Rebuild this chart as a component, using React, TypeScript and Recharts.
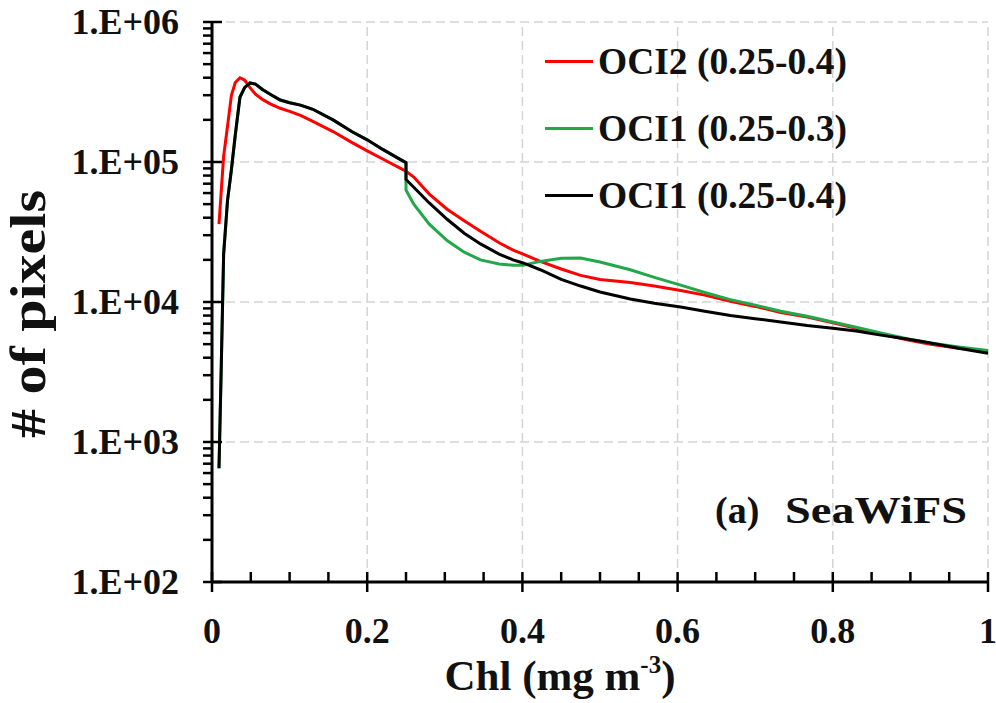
import { LineChart, Line, XAxis, YAxis, ReferenceLine, Legend, Customized } from "recharts";

// Chl (mg m^-3); 0.25 appears twice so the switch-over step is drawn vertically
const chl = [
  0.009, 0.012, 0.015, 0.02, 0.025, 0.03, 0.036, 0.042, 0.049, 0.056, 0.065, 0.075, 0.088, 0.1, 0.114, 0.13,
  0.156, 0.18, 0.2, 0.22, 0.243, 0.25, 0.25, 0.26, 0.28, 0.303, 0.325, 0.346, 0.37, 0.388, 0.401, 0.423, 0.45,
  0.475, 0.5, 0.539, 0.57, 0.604, 0.635, 0.668, 0.7, 0.733, 0.767, 0.8, 0.83, 0.862, 0.9, 0.926, 0.96, 1.0,
];

const oci2 = [
  3.6e4, 6.3e4, 1.1e5, 1.8e5, 3.0e5, 3.7e5, 4.0e5, 3.85e5, 3.4e5, 3.05e5, 2.8e5, 2.6e5, 2.42e5, 2.3e5, 2.15e5, 1.95e5,
  1.65e5, 1.38e5, 1.2e5, 1.05e5, 9.0e4, 8.6e4, 8.6e4, 7.8e4, 5.9e4, 4.6e4, 3.8e4, 3.2e4, 2.65e4, 2.35e4, 2.2e4, 1.95e4, 1.72e4,
  1.55e4, 1.45e4, 1.38e4, 1.3e4, 1.21e4, 1.12e4, 1.01e4, 9.3e3, 8.4e3, 7.8e3, 7.1e3, 6.5e3, 5.9e3, 5.3e3, 5.0e3, 4.7e3, 4.45e3,
];

const oci1Narrow = [
  650, 3.6e3, 2.2e4, 5.3e4, 8.8e4, 1.56e5, 2.9e5, 3.4e5, 3.67e5, 3.6e5, 3.3e5, 3.05e5, 2.77e5, 2.65e5, 2.55e5, 2.38e5,
  2.0e5, 1.65e5, 1.44e5, 1.23e5, 1.04e5, 9.9e4, 6.3e4, 5.0e4, 3.6e4, 2.75e4, 2.27e4, 2.0e4, 1.87e4, 1.83e4, 1.83e4, 1.95e4, 2.05e4,
  2.06e4, 1.93e4, 1.7e4, 1.5e4, 1.32e4, 1.17e4, 1.04e4, 9.5e3, 8.6e3, 7.9e3, 7.2e3, 6.6e3, 6.0e3, 5.4e3, 5.1e3, 4.8e3, 4.5e3,
];

const oci1Wide = [
  650, 3.6e3, 2.2e4, 5.3e4, 8.8e4, 1.56e5, 2.9e5, 3.4e5, 3.67e5, 3.6e5, 3.3e5, 3.05e5, 2.77e5, 2.65e5, 2.55e5, 2.38e5,
  2.0e5, 1.65e5, 1.44e5, 1.23e5, 1.04e5, 9.9e4, 7.5e4, 6.6e4, 5.1e4, 3.9e4, 3.1e4, 2.6e4, 2.2e4, 2.0e4, 1.9e4, 1.7e4, 1.45e4,
  1.3e4, 1.18e4, 1.05e4, 9.8e3, 9.2e3, 8.6e3, 8.0e3, 7.6e3, 7.2e3, 6.8e3, 6.5e3, 6.2e3, 5.8e3, 5.4e3, 5.1e3, 4.7e3, 4.3e3,
];

const yTicks = [
  100, 200, 300, 400, 500, 600, 700, 800, 900,
  1000, 2000, 3000, 4000, 5000, 6000, 7000, 8000, 9000,
  10000, 20000, 30000, 40000, 50000, 60000, 70000, 80000, 90000,
  100000, 200000, 300000, 400000, 500000, 600000, 700000, 800000, 900000, 1000000,
];
const yGrid = [1000, 10000, 100000, 1000000];
const xTicks = [0, 0.05, 0.1, 0.15, 0.2, 0.25, 0.3, 0.35, 0.4, 0.45, 0.5, 0.55, 0.6, 0.65, 0.7, 0.75, 0.8, 0.85, 0.9, 0.95, 1];
const xGrid = [0.2, 0.4, 0.6, 0.8, 1];

const series = [
  { key: "oci2", name: "OCI2 (0.25-0.4)", color: "#ff0000" },
  { key: "oci1Narrow", name: "OCI1 (0.25-0.3)", color: "#22a84a" },
  { key: "oci1Wide", name: "OCI1 (0.25-0.4)", color: "#000000" },
];

const data = chl.map((c, i) => ({ chl: c, oci2: oci2[i], oci1Narrow: oci1Narrow[i], oci1Wide: oci1Wide[i] }));

const font = '"Liberation Serif", "Times New Roman", serif';

function YTick({ x, y, payload }: any) {
  const p = Math.log10(payload.value);
  const major = Math.abs(p - Math.round(p)) < 1e-9;
  return (
    <g>
      <line x1={x - 9} x2={major ? x + 10 : x} y1={y} y2={y} stroke="#000" strokeWidth={2.5} />
      {major && (
        <text x={x - 33} y={y} textAnchor="end" dominantBaseline="central" fontFamily={font} fontWeight="bold" fontSize={36} fill="#111">
          {"1.E+" + String(Math.round(p)).padStart(2, "0")}
        </text>
      )}
    </g>
  );
}

function XTick({ x, y, payload }: any) {
  const v = payload.value;
  const major = Math.abs(v * 5 - Math.round(v * 5)) < 1e-9;
  return (
    <g>
      <line x1={x} x2={x} y1={y - 10} y2={major ? y + 10 : y} stroke="#000" strokeWidth={2.5} />
      {major && (
        <text x={x} y={y + 61} textAnchor="middle" fontFamily={font} fontWeight="bold" fontSize={36} fill="#111">
          {String(Math.round(v * 5) / 5)}
        </text>
      )}
    </g>
  );
}

function LegendBox() {
  return (
    <div style={{ fontFamily: font, fontWeight: "bold", fontSize: 37.5, color: "#111" }}>
      {series.map((s) => (
        <div key={s.key} style={{ display: "flex", alignItems: "center", height: 67, whiteSpace: "nowrap" }}>
          <span style={{ display: "inline-block", width: 48, height: 3, background: s.color, marginRight: 5 }} />
          {s.name}
        </div>
      ))}
    </div>
  );
}

function Annotations() {
  return (
    <g fontFamily={font} fontWeight="bold" fill="#111">
      <text
        x={28}
        y={314}
        fontSize={50}
        textAnchor="middle"
        dominantBaseline="central"
        textLength={248}
        lengthAdjust="spacingAndGlyphs"
        transform="rotate(-90 28 314)"
      >
        # of pixels
      </text>
      <text x={560} y={690} fontSize={43} textAnchor="middle">
        Chl (mg m<tspan fontSize={25} dy={-17}>-3</tspan>
        <tspan dy={17}>)</tspan>
      </text>
      <text x={715} y={523} fontSize={38}>
        (a)
      </text>
      <text x={785} y={523} fontSize={38} textLength={182} lengthAdjust="spacingAndGlyphs">
        SeaWiFS
      </text>
    </g>
  );
}

export default function App() {
  return (
    <div style={{ position: "absolute", left: 0, top: 0, background: "#fff" }}>
      <LineChart width={996} height={703} data={data} margin={{ top: 22, right: 8, bottom: 0, left: 72 }}>
        {yGrid.map((v) => (
          <ReferenceLine key={"y" + v} y={v} stroke="#d4d4d4" strokeWidth={1.5} strokeDasharray="9 5" />
        ))}
        {xGrid.map((v) => (
          <ReferenceLine key={"x" + v} x={v} stroke="#d4d4d4" strokeWidth={1.5} strokeDasharray="9 5" />
        ))}
        <XAxis
          dataKey="chl"
          type="number"
          domain={[0, 1]}
          ticks={xTicks}
          interval={0}
          height={121}
          tickSize={0}
          tickMargin={0}
          tick={<XTick />}
          axisLine={{ stroke: "#000", strokeWidth: 3 }}
          tickLine={false}
        />
        <YAxis
          type="number"
          scale="log"
          domain={[100, 1000000]}
          allowDataOverflow
          ticks={yTicks}
          interval={0}
          width={140}
          tickSize={0}
          tickMargin={0}
          tick={<YTick />}
          axisLine={{ stroke: "#000", strokeWidth: 3 }}
          tickLine={false}
        />
        {series.map((s) => (
          <Line
            key={s.key}
            dataKey={s.key}
            name={s.name}
            stroke={s.color}
            strokeWidth={3}
            dot={false}
            type="linear"
            isAnimationActive={false}
          />
        ))}
        <Legend
          layout="vertical"
          align="center"
          verticalAlign="middle"
          content={<LegendBox />}
          wrapperStyle={{ left: 545, top: 28, width: "auto" }}
        />
        <Customized component={<Annotations />} />
      </LineChart>
    </div>
  );
}
